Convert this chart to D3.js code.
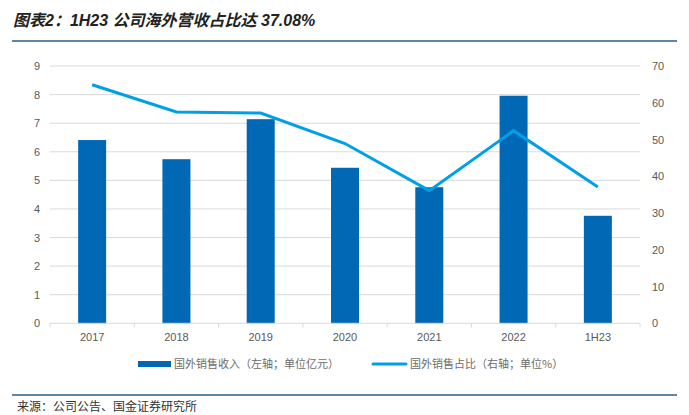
<!DOCTYPE html>
<html><head><meta charset="utf-8">
<script src="https://cdn.jsdelivr.net/npm/d3@7"></script>
<style>body{margin:0;background:#fff;} svg{display:block;}</style>
</head><body>
<svg id="c" width="689" height="415"></svg>
<script>
const categories = ["2017","2018","2019","2020","2021","2022","1H23"];
const revenue = [6.41, 5.74, 7.14, 5.44, 4.76, 7.96, 3.76];
const share = [64.9, 57.5, 57.2, 48.9, 36.1, 52.4, 37.08];
const leftTicks = [0,1,2,3,4,5,6,7,8,9];
const rightTicks = [0,10,20,30,40,50,60,70];
const title = "图表2：1H23 公司海外营收占比达 37.08%";
const source = "来源：公司公告、国金证券研究所";
const legendLabels = ["国外销售收入（左轴；单位亿元）","国外销售占比（右轴；单位%）"];

const svg = d3.select("#c");
const font = "'Noto Sans CJK SC', 'Liberation Sans', Arial, sans-serif";
const numFont = "'Liberation Sans', Arial, 'Noto Sans CJK SC', sans-serif";
const L = 50, R = 640, T = 66, B = 323.3;
const x = d3.scaleBand().domain(categories).range([L, R]);
const yL = d3.scaleLinear().domain([0,9]).range([B, T]);
const yR = d3.scaleLinear().domain([0,70]).range([B, T]);

// title
svg.append("text").attr("x",13).attr("y",26).attr("font-family",numFont)
  .attr("font-size",16).attr("font-weight","bold").attr("font-style","italic")
  .attr("fill","#222").text(title);
svg.append("line").attr("x1",12).attr("x2",677).attr("y1",41).attr("y2",41)
  .attr("stroke","#2f5d86").attr("stroke-width",1.5);

// grid
svg.append("g").selectAll("line").data(leftTicks.filter(d=>d>0)).join("line")
  .attr("x1",L).attr("x2",R).attr("y1",d=>yL(d)).attr("y2",d=>yL(d))
  .attr("stroke","#d9d9d9").attr("stroke-width",1);

// left axis labels
svg.append("g").selectAll("text").data(leftTicks).join("text")
  .attr("x",40).attr("y",d=>yL(d)+4).attr("text-anchor","end")
  .attr("font-family",numFont).attr("font-size",11).attr("fill","#595959").text(d=>d);
// right axis labels
svg.append("g").selectAll("text").data(rightTicks).join("text")
  .attr("x",652).attr("y",d=>yR(d)+4).attr("text-anchor","start")
  .attr("font-family",numFont).attr("font-size",11).attr("fill","#595959").text(d=>d);

// bars
const bw = 28;
svg.append("g").selectAll("rect").data(revenue).join("rect")
  .attr("x",(d,i)=>x(categories[i])+x.bandwidth()/2-bw/2)
  .attr("width",bw)
  .attr("y",d=>yL(d)).attr("height",d=>B-yL(d))
  .attr("fill","#0068b5");

// x axis
svg.append("line").attr("x1",L).attr("x2",R).attr("y1",B).attr("y2",B)
  .attr("stroke","#d9d9d9").attr("stroke-width",1);
const bounds = categories.map(c=>x(c)).concat([R]);
svg.append("g").selectAll("line").data(bounds).join("line")
  .attr("x1",d=>d).attr("x2",d=>d).attr("y1",B).attr("y2",B+4)
  .attr("stroke","#d9d9d9");
svg.append("g").selectAll("text").data(categories).join("text")
  .attr("x",d=>x(d)+x.bandwidth()/2).attr("y",341).attr("text-anchor","middle")
  .attr("font-family",numFont).attr("font-size",11).attr("fill","#595959").text(d=>d);

// line
const line = d3.line().x((d,i)=>x(categories[i])+x.bandwidth()/2).y(d=>yR(d));
svg.append("path").datum(share).attr("d",line).attr("fill","none")
  .attr("stroke","#00a0e9").attr("stroke-width",3).attr("stroke-linejoin","miter");

// legend
svg.append("rect").attr("x",138).attr("y",361).attr("width",33).attr("height",6).attr("fill","#0068b5");
svg.append("text").attr("x",174).attr("y",368).attr("font-family",font).attr("font-size",11)
  .attr("fill","#6b6b6b").text(legendLabels[0]);
svg.append("line").attr("x1",373).attr("x2",406).attr("y1",364).attr("y2",364)
  .attr("stroke","#00a0e9").attr("stroke-width",3).attr("stroke-linecap","round");
svg.append("text").attr("x",410).attr("y",368).attr("font-family",font).attr("font-size",11)
  .attr("fill","#6b6b6b").text(legendLabels[1]);

// source
svg.append("line").attr("x1",12).attr("x2",677).attr("y1",395).attr("y2",395)
  .attr("stroke","#2f5d86").attr("stroke-width",1.5);
svg.append("text").attr("x",17).attr("y",411).attr("font-family",font).attr("font-size",12)
  .attr("fill","#333").text(source);
</script>
</body></html>
